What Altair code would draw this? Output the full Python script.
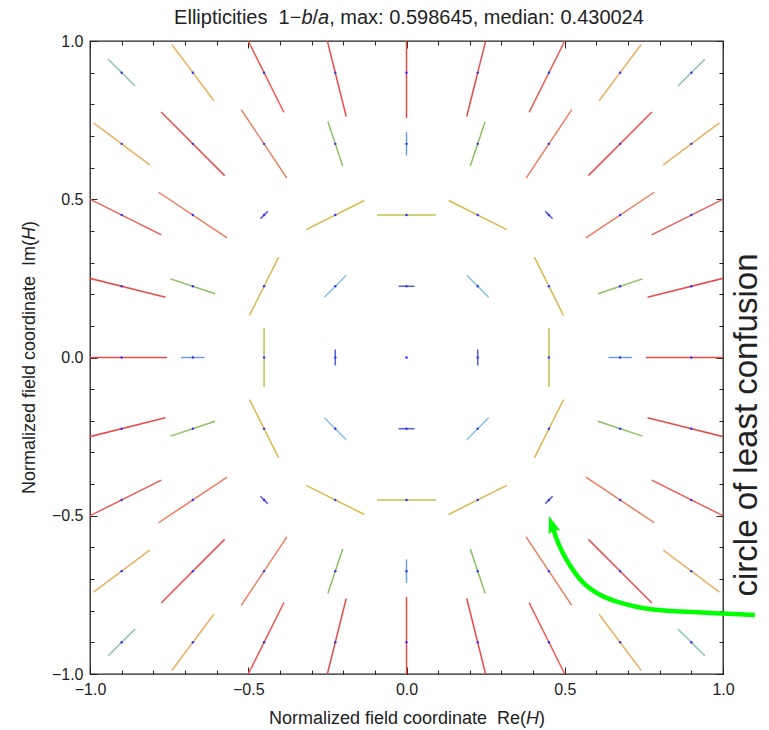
import math
import altair as alt
import pandas as pd

# ---------------- data ----------------
X_GRID = [-0.9, -0.675, -0.45, -0.225, 0.0, 0.225, 0.45, 0.675, 0.9]
Y_GRID = [0.9, 0.675, 0.45, 0.225, 0.0, -0.225, -0.45, -0.675, -0.9]  # rows, top to bottom

# ellipticity 1-b/a at each field point (rows follow Y_GRID, columns follow X_GRID)
ELLIPTICITY = [
    [0.251, 0.464, 0.586, 0.597, 0.598645, 0.597, 0.586, 0.464, 0.251],
    [0.464, 0.594, 0.544, 0.310, 0.155, 0.310, 0.544, 0.594, 0.464],
    [0.586, 0.544, 0.069, 0.430024, 0.389, 0.430024, 0.069, 0.544, 0.586],
    [0.597, 0.310, 0.430024, 0.205, 0.105, 0.205, 0.430024, 0.310, 0.597],
    [0.598645, 0.155, 0.389, 0.105, 0.005, 0.105, 0.389, 0.155, 0.598645],
    [0.597, 0.310, 0.430024, 0.205, 0.105, 0.205, 0.430024, 0.310, 0.597],
    [0.586, 0.544, 0.069, 0.430024, 0.389, 0.430024, 0.069, 0.544, 0.586],
    [0.464, 0.594, 0.544, 0.310, 0.155, 0.310, 0.544, 0.594, 0.464],
    [0.251, 0.464, 0.586, 0.597, 0.598645, 0.597, 0.586, 0.464, 0.251],
]

# orientation of the major axis, degrees counter-clockwise from +x
ORIENTATION_DEG = [
    [135, 126.87, 116.57, 104.04, 90, 75.96, 63.43, 53.13, 45],
    [143.13, 135, 123.69, 108.43, 90, 71.57, 56.31, 45, 36.87],
    [153.43, 146.31, 45, 26.57, 0, 153.43, 135, 33.69, 26.57],
    [165.96, 161.57, 63.43, 45, 0, 135, 116.57, 18.43, 14.04],
    [0, 0, 90, 90, 90, 90, 90, 0, 0],
    [14.04, 18.43, 116.57, 135, 0, 45, 63.43, 161.57, 165.96],
    [26.57, 33.69, 135, 153.43, 0, 26.57, 45, 146.31, 153.43],
    [36.87, 45, 56.31, 71.57, 90, 108.43, 123.69, 135, 143.13],
    [45, 53.13, 63.43, 75.96, 90, 104.04, 116.57, 126.87, 135],
]

SEGMENT_SCALE = 0.478  # segment length per unit ellipticity

COLOR_STOPS = [0.0, 0.069, 0.105, 0.155, 0.205, 0.251, 0.310, 0.389, 0.430, 0.464, 0.544, 0.586, 0.6]
COLOR_RANGE = ["#5a4fe0", "#5b58e6", "#4c62d9", "#6f9fe6", "#84c2dc", "#88c6ae", "#88c060",
               "#c2c150", "#dcb94c", "#f0b060", "#f07a5c", "#ec5c50", "#e64848"]

MAJOR_TICKS = [-1.0, -0.5, 0.0, 0.5, 1.0]
MINOR_TICKS = [-1.0, -0.9, -0.8, -0.7, -0.6, -0.5, -0.4, -0.3, -0.2, -0.1, 0.0,
               0.1, 0.2, 0.3, 0.4, 0.5, 0.6, 0.7, 0.8, 0.9, 1.0]

# annotation arrow (data coordinates)
ARROW_X = [1.1011, 1.0000, 0.8957, 0.8325, 0.7694, 0.7283, 0.6746, 0.6209, 0.5798,
           0.5482, 0.5166, 0.4913, 0.4724, 0.4597]
ARROW_Y = [-0.8136, -0.8088, -0.8041, -0.8009, -0.7962, -0.7883, -0.7757, -0.7567,
           -0.7314, -0.7030, -0.6588, -0.6145, -0.5703, -0.5292]
ARROW_HEAD_X = [0.4588]
ARROW_HEAD_Y = [-0.5267]

# ---------------- tables ----------------
rows = []
for r, yv in enumerate(Y_GRID):
    for c, xv in enumerate(X_GRID):
        e = ELLIPTICITY[r][c]
        th = math.radians(ORIENTATION_DEG[r][c])
        h = 0.5 * SEGMENT_SCALE * e
        rows.append(dict(x=xv, y=yv, e=e,
                         xa=xv - h * math.cos(th), xb=xv + h * math.cos(th),
                         ya=yv - h * math.sin(th), yb=yv + h * math.sin(th)))
df = pd.DataFrame(rows)
arrow_df = pd.DataFrame({"ax": ARROW_X, "ay": ARROW_Y, "i": list(range(len(ARROW_X)))})
head_df = pd.DataFrame({"hx": ARROW_HEAD_X, "hy": ARROW_HEAD_Y})

FONT = "Liberation Sans"
INK = "#222222"
xs = alt.Scale(domain=[-1, 1], nice=False, zero=False)
ys = alt.Scale(domain=[-1, 1], nice=False, zero=False)


def major_axis(orient, labels):
    kw = dict(orient=orient, values=MAJOR_TICKS, tickSize=7, offset=-7, domain=False,
              grid=False, ticks=True, tickColor=INK, tickWidth=1, labels=labels, title="")
    if labels:
        kw.update(format=".1f", labelFont=FONT, labelFontSize=16, labelColor=INK,
                  labelPadding=7, labelFlush=False, labelOverlap=False)
    return alt.Axis(**kw)


def minor_axis(orient):
    return alt.Axis(orient=orient, values=MINOR_TICKS, tickSize=4, offset=-4, domain=False,
                    grid=False, ticks=True, tickColor=INK, tickWidth=1, labels=False, title="")


seg = alt.Chart(df).mark_rule(clip=True, strokeWidth=1.5).encode(
    x=alt.X("xa:Q", scale=xs, axis=major_axis("bottom", True)),
    y=alt.Y("ya:Q", scale=ys, axis=major_axis("left", True)),
    x2="xb:Q",
    y2="yb:Q",
    color=alt.Color("e:Q", scale=alt.Scale(domain=COLOR_STOPS, range=COLOR_RANGE), legend=None),
)

dots = alt.Chart(df).mark_circle(size=6, color="#3232ff", opacity=1).encode(
    x=alt.X("x:Q", scale=xs, axis=minor_axis("bottom")),
    y=alt.Y("y:Q", scale=ys, axis=minor_axis("left")),
)

arrow = alt.Chart(arrow_df).mark_line(color="#00ff00", strokeWidth=4.5, interpolate="basis").encode(
    x=alt.X("ax:Q", scale=xs, axis=major_axis("top", False)),
    y=alt.Y("ay:Q", scale=ys, axis=major_axis("right", False)),
    order="i:Q",
)

head = alt.Chart(head_df).mark_point(shape="M0,-1L0.7,1L0,0.7L-0.7,1Z", filled=True,
                                     color="#00ff00", size=300, angle=342, opacity=1,
                                     strokeWidth=0).encode(
    x=alt.X("hx:Q", scale=xs, axis=minor_axis("top")),
    y=alt.Y("hy:Q", scale=ys, axis=minor_axis("right")),
)

OX, OY = 90, 41  # plot origin inside the page


def label(text, px, py, size, italic=False, align="left", angle=0):
    kw = dict(text=text, font=FONT, fontSize=size, color=INK, align=align, baseline="alphabetic")
    if italic:
        kw["fontStyle"] = "italic"
    if angle:
        kw["angle"] = angle
    return alt.Chart(pd.DataFrame({"k": [0]})).mark_text(**kw).encode(
        x=alt.value(px - OX), y=alt.value(py - OY))


NB = "\u00a0"
texts = [
    # title
    label("Ellipticities" + NB + NB + "1\u2212", 301.4, 24, 20, align="right"),
    label("b", 301.4, 24, 20, italic=True),
    label("/", 312.5, 24, 20),
    label("a", 318.1, 24, 20, italic=True),
    label(", max: 0.598645, median: 0.430024", 329.2, 24, 20),
    # x axis title
    label("Normalized field coordinate" + NB + NB + "Re(", 526.1, 724, 18, align="right"),
    label("H", 526.1, 724, 18, italic=True),
    label(")", 539.1, 724, 18),
    # y axis title
    label("Normalized field coordinate" + NB + NB + "Im(", 35, 239.9, 18, align="right", angle=270),
    label("H", 35, 239.9, 18, italic=True, angle=270),
    label(")", 35, 226.9, 18, angle=270),
    # annotation
    label("circle of least confusion", 757, 425, 33, align="center", angle=270),
]

chart = alt.layer(seg, dots, arrow, head, *texts).resolve_axis(
    x="independent", y="independent"
).properties(
    width=633, height=633,
    padding={"left": 90, "top": 41, "right": 46, "bottom": 56},
    autosize=alt.AutoSizeParams(type="none"),
).configure_view(stroke=INK, strokeWidth=1.3)

chart.save("out.html", embed_options={"renderer": "svg", "actions": False})
